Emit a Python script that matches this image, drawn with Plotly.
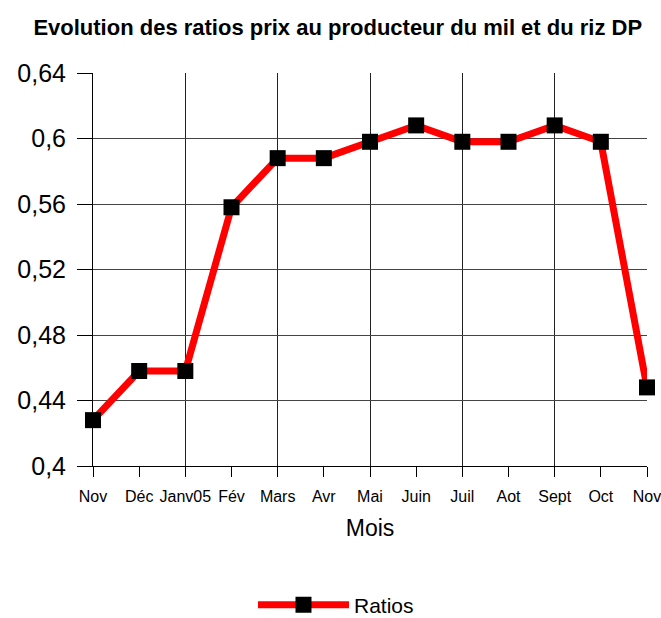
import plotly.graph_objects as go

mois = ["Nov", "Déc", "Janv05", "Fév", "Mars", "Avr", "Mai", "Juin", "Juil", "Aot", "Sept", "Oct", "Nov"]
ratios = [0.428, 0.458, 0.458, 0.558, 0.588, 0.588, 0.598, 0.608, 0.598, 0.598, 0.608, 0.598, 0.448]
y_ticks = [0.4, 0.44, 0.48, 0.52, 0.56, 0.6, 0.64]
y_labels = ["0,4", "0,44", "0,48", "0,52", "0,56", "0,6", "0,64"]

x_pos = list(range(len(mois)))

fig = go.Figure()
fig.add_trace(go.Scatter(
    x=x_pos, y=ratios, mode="lines+markers", name="Ratios",
    line=dict(color="#ff0000", width=7),
    marker=dict(symbol="square", size=16, color="#000000"),
    cliponaxis=False,
))

fig.update_layout(
    width=661, height=618,
    margin=dict(l=93, r=14, t=73, b=152, autoexpand=False),
    paper_bgcolor="white", plot_bgcolor="white",
    font=dict(family="Liberation Sans, Arial, sans-serif", color="black"),
    title=dict(text="<b>Evolution des ratios prix au producteur du mil et du riz DP</b>",
               x=0.511, xanchor="center", y=0.956, yanchor="middle",
               font=dict(family="Liberation Sans Narrow, Arial Narrow, Liberation Sans, sans-serif", size=22)),
    showlegend=True,
    legend=dict(orientation="h", x=0.4386, xanchor="center", y=-0.354, yanchor="middle",
                font=dict(size=21), itemwidth=91, bgcolor="rgba(0,0,0,0)"),
)

fig.update_xaxes(
    range=[0, 12], tickvals=x_pos, ticktext=mois, automargin=False,
    showgrid=False, showline=True, linecolor="black", linewidth=1,
    ticks="outside", ticklen=10, tickcolor="black",
    tickfont=dict(size=16), zeroline=False, ticklabelstandoff=6,
    ticklabeloverflow="allow",
    minor=dict(tickvals=[0, 2, 4, 6, 8, 10, 12], showgrid=True, gridcolor="#222222", gridwidth=1, ticks=""),
    title=dict(text="Mois", font=dict(size=23), standoff=15),
)
fig.update_yaxes(
    range=[0.4, 0.64], tickvals=y_ticks, ticktext=y_labels, automargin=False,
    showgrid=True, gridcolor="#444444", gridwidth=1,
    showline=True, linecolor="black", linewidth=1,
    ticks="outside", ticklen=15, tickcolor="black",
    tickfont=dict(size=25), zeroline=False, ticklabelstandoff=6,
)

fig.write_html("out.html", config={"displayModeBar": False},
               post_script="document.body.style.margin='0';document.body.style.overflow='hidden';")
